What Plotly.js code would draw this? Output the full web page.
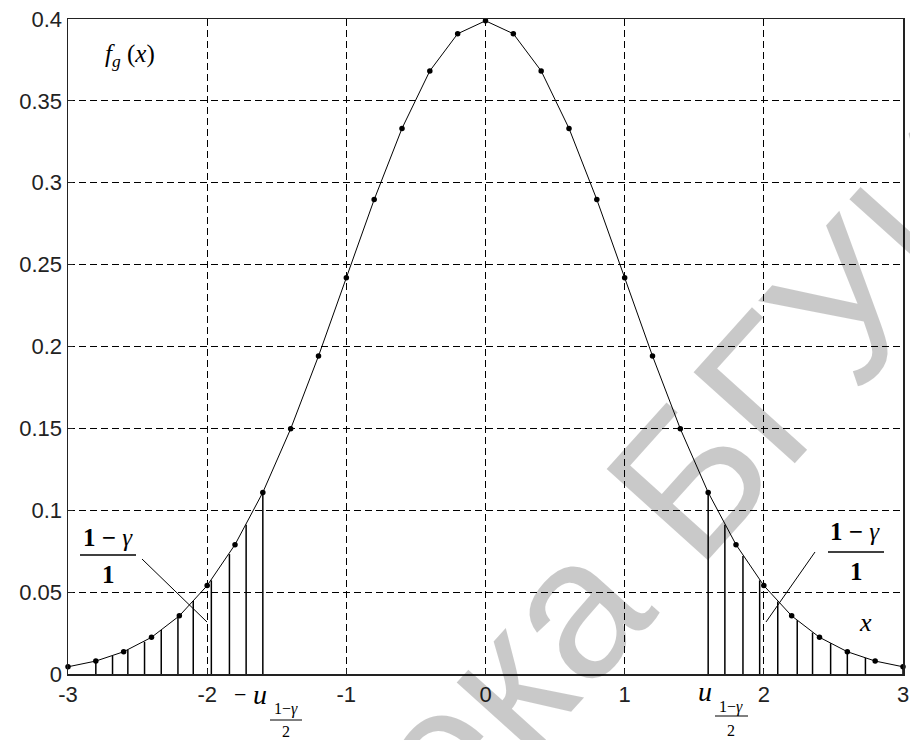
<!DOCTYPE html>
<html><head><meta charset="utf-8">
<script src="https://cdn.plot.ly/plotly-3.0.1.min.js"></script>
<style>html,body{margin:0;padding:0;background:#fff}#chart{width:910px;height:740px}</style>
</head><body><div id="chart"></div>
<script>
// ---- data ----
const xDots = [-3,-2.8,-2.6,-2.4,-2.2,-2,-1.8,-1.6,-1.4,-1.2,-1,-0.8,-0.6,-0.4,-0.2,0,0.2,0.4,0.6,0.8,1,1.2,1.4,1.6,1.8,2,2.2,2.4,2.6,2.8,3];
const yDots = [0.0044,0.0079,0.0136,0.0224,0.0355,0.0540,0.0790,0.1109,0.1497,0.1942,0.2420,0.2897,0.3332,0.3683,0.3910,0.3989,0.3910,0.3683,0.3332,0.2897,0.2420,0.1942,0.1497,0.1109,0.0790,0.0540,0.0355,0.0224,0.0136,0.0079,0.0044];
const hatchLeftX  = [-2.8,-2.68,-2.57,-2.45,-2.33,-2.21,-2.1,-1.97,-1.84,-1.72,-1.6];
const hatchLeftY  = [0.0079,0.0110,0.0148,0.0197,0.0268,0.0348,0.0446,0.0572,0.0732,0.0912,0.1109];
const hatchRightX = [1.6,1.72,1.85,1.97,2.1,2.24,2.35,2.48,2.6,2.73,3];
const hatchRightY = [0.1109,0.0912,0.0720,0.0572,0.0442,0.0328,0.0253,0.0188,0.0136,0.0098,0.0044];
const xTickVals = [-3,-2,-1,0,1,2,3];
const xTickText = ['-3','-2','-1','0','1','2','3'];
const yTickVals = [0,0.05,0.1,0.15,0.2,0.25,0.3,0.35,0.4];
const yTickText = ['0','0.05','0.1','0.15','0.2','0.25','0.3','0.35','0.4'];
const watermarkText = 'Библиотека БГУИР';

// ---- build hatch segments from arrays ----
function segs(xs, ys){
  const X=[],Y=[];
  xs.forEach((x,i)=>{X.push(x,x,null);Y.push(0,ys[i],null);});
  return {X,Y};
}
const hl = segs(hatchLeftX, hatchLeftY);
const hr = segs(hatchRightX, hatchRightY);

const traces = [
  {x: hl.X, y: hl.Y, mode:'lines', line:{color:'#000', width:1.5}, hoverinfo:'skip', showlegend:false},
  {x: hr.X, y: hr.Y, mode:'lines', line:{color:'#000', width:1.5}, hoverinfo:'skip', showlegend:false},
  {x: xDots, y: yDots, mode:'lines+markers', line:{color:'#000', width:1},
   marker:{color:'#000', size:5.5}, cliponaxis:false, showlegend:false}
];

// pixel -> paper helpers (layout positions only)
const L=68, T=19, W=835, H=655;
const px = v => (v-L)/W;
const py = v => (T+H-v)/H;
const serif = 'Liberation Serif, Times New Roman, serif';
function txt(text, x, y, size, extra){
  return Object.assign({text, x:px(x), y:py(y), xref:'paper', yref:'paper', showarrow:false,
    xanchor:'center', yanchor:'middle', font:{family:serif, size, color:'#000'}}, extra||{});
}
function seg(x0,y0,x1,y1,w){
  return {type:'line', xref:'paper', yref:'paper', x0:px(x0), y0:py(y0), x1:px(x1), y1:py(y1),
    line:{color:'#000', width:w||1}};
}

const annotations = [
  // watermark (drawn semi-transparent so the chart shows through)
  {text: watermarkText, x:px(480), y:py(710), xref:'paper', yref:'paper', showarrow:false,
   xanchor:'center', yanchor:'middle', textangle:-48,
   font:{family:'Liberation Sans, Arial, sans-serif', size:198, color:'rgba(0,0,0,0.21)'}},
  txt('<i>f</i><sub><i>g</i></sub> (<i>x</i>)', 130, 55, 25),
  // left fraction
  txt('<b>1</b> <b>−</b> <i>γ</i>', 108, 537, 25),
  txt('<b>1</b>', 108, 574, 25),
  // right fraction
  txt('<b>1</b> <b>−</b> <i>γ</i>', 855, 531, 25),
  txt('<b>1</b>', 856, 571, 25),
  txt('<i>x</i>', 865, 622, 26),
  // left quantile label
  txt('−', 240, 695, 22),
  txt('<i>u</i>', 260, 694, 28),
  txt('1−<i>γ</i>', 286, 709, 16),
  txt('2', 286, 731, 16),
  // right quantile label
  txt('<i>u</i>', 705, 691, 28),
  txt('1−<i>γ</i>', 731, 707, 16),
  txt('2', 731, 730, 16)
];

const shapes = [
  seg(80,555,136,555,1.5),
  seg(142,559,207,622,1),
  seg(828,552,884,552,1.5),
  seg(815,552,766,622,1),
  seg(270,720,302,720,1),
  seg(715,716,748,716,1)
];

const axisFont = {family:'Liberation Sans, Arial, sans-serif', size:22, color:'#222'};
const layout = {
  width:910, height:740,
  margin:{l:L, r:910-L-W, t:T, b:740-T-H, pad:0},
  paper_bgcolor:'#fff', plot_bgcolor:'#fff',
  showlegend:false,
  xaxis:{range:[-3,3], tickvals:xTickVals, ticktext:xTickText, tickfont:axisFont,
    showgrid:true, gridcolor:'#000', gridwidth:1, griddash:'7px,4px',
    showline:true, linecolor:'#222', linewidth:1.5, mirror:true,
    ticks:'inside', ticklen:5, tickcolor:'#222', zeroline:false, fixedrange:true},
  yaxis:{range:[0,0.4], tickvals:yTickVals, ticktext:yTickText, tickfont:axisFont,
    showgrid:true, gridcolor:'#000', gridwidth:1, griddash:'7px,4px',
    showline:true, linecolor:'#222', linewidth:1.5, mirror:true,
    ticks:'inside', ticklen:5, tickcolor:'#222', zeroline:false, fixedrange:true},
  annotations, shapes
};

Plotly.newPlot('chart', traces, layout, {displayModeBar:false, staticPlot:true});
</script>
</body></html>
